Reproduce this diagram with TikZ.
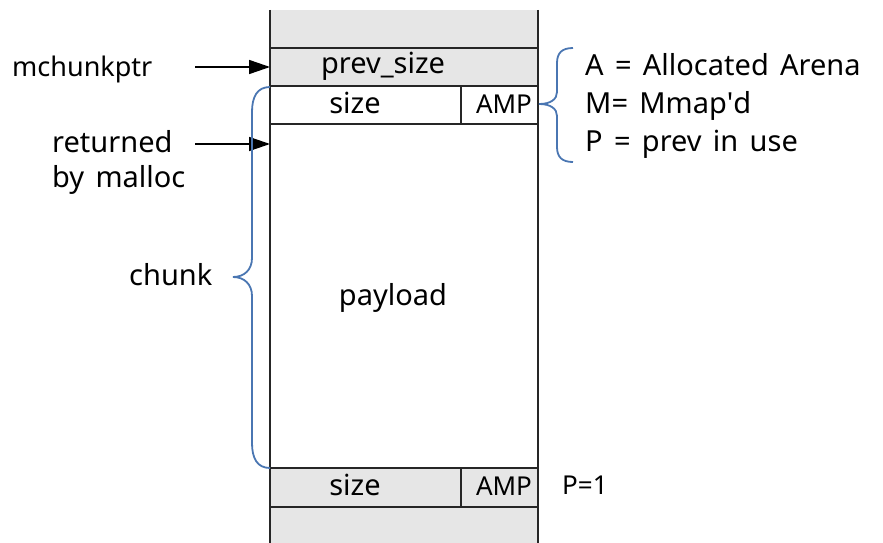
\documentclass[tikz,border=0pt]{standalone}
\usepackage{fontspec}
\setmainfont{Noto Sans}[WordSpace=1.5]
\usetikzlibrary{arrows.meta}
\definecolor{cellgray}{HTML}{E6E6E6}
\definecolor{bracec}{HTML}{4A76B2}
\begin{document}
\begin{tikzpicture}[x=1pt,y=-1pt,
  wall/.style={line width=2pt, draw=black!85},
  lbl/.style={inner sep=0pt, font=\fontsize{29}{32}\selectfont, text=black},
  small/.style={inner sep=0pt, font=\fontsize{26}{28}\selectfont, text=black},
  ptr/.style={line width=1.6pt, -{Triangle[length=21pt,width=14pt]}},
  bracep/.style={line width=1.8pt, draw=bracec}]
\useasboundingbox (0,0) rectangle (883,543);
% fills
\fill[cellgray] (270,10) rectangle (538,86);
\fill[cellgray] (270,468) rectangle (538,543);
% walls and row lines
\draw[wall] (270,10) -- (270,543);
\draw[wall] (538,10) -- (538,543);
\draw[wall] (270,48) -- (538,48);
\draw[wall] (270,86) -- (538,86);
\draw[wall] (270,124) -- (538,124);
\draw[wall] (461,86) -- (461,124);
\draw[wall] (270,468) -- (538,468);
\draw[wall] (270,507) -- (538,507);
\draw[wall] (461,468) -- (461,507);
% cell texts
\node[lbl, anchor=base] (prevsize) at (383,74) {prev\_size};
\node[lbl, anchor=base] (size1) at (355,113) {size};
\node[small, anchor=base] (amp1) at (504,113) {AMP};
\node[lbl, anchor=base] (payload) at (393,305) {payload};
\node[lbl, anchor=base] (size2) at (355,495) {size};
\node[small, anchor=base] (amp2) at (504,495) {AMP};
\node[small, anchor=base west] (pone) at (562,494) {P=1};
% left labels
\node[lbl, anchor=base west, font=\fontsize{27}{30}\selectfont] (mchunk) at (12,76) {mchunkptr};
\node[lbl, anchor=base west] (ret1) at (52,152) {returned};
\node[lbl, anchor=base west] (ret2) at (52,187) {by malloc};
\node[lbl, anchor=base west] (chunk) at (129,285) {chunk};
% right legend
\node[lbl, anchor=base west] (la) at (585,75) {A = Allocated Arena};
\node[lbl, anchor=base west] (lm) at (585,113) {M= Mmap\textquotesingle d};
\node[lbl, anchor=base west] (lp) at (585,151) {P = prev in use};
% arrows
\coordinate (m0) at (195,67);
\coordinate (m1) at (270,67);
\coordinate (r0) at (195,144);
\coordinate (r1) at (270,144);
\draw[ptr] (m0) -- (m1);
\draw[ptr] (r0) -- (r1);
% braces
\draw[bracep] (270,87) .. controls (257,87) and (252,97) .. (252,112)
  -- (252,258) .. controls (252,270) and (244,277) .. (233,277)
  .. controls (244,277) and (252,284) .. (252,296)
  -- (252,443) .. controls (252,458) and (257,468) .. (270,468);
\draw[bracep] (573,48) .. controls (562,48) and (557,53) .. (557,63)
  -- (557,92) .. controls (557,99) and (551,104) .. (539,104)
  .. controls (551,104) and (557,109) .. (557,116)
  -- (557,147) .. controls (557,157) and (562,162) .. (573,162);
\end{tikzpicture}
\end{document}
